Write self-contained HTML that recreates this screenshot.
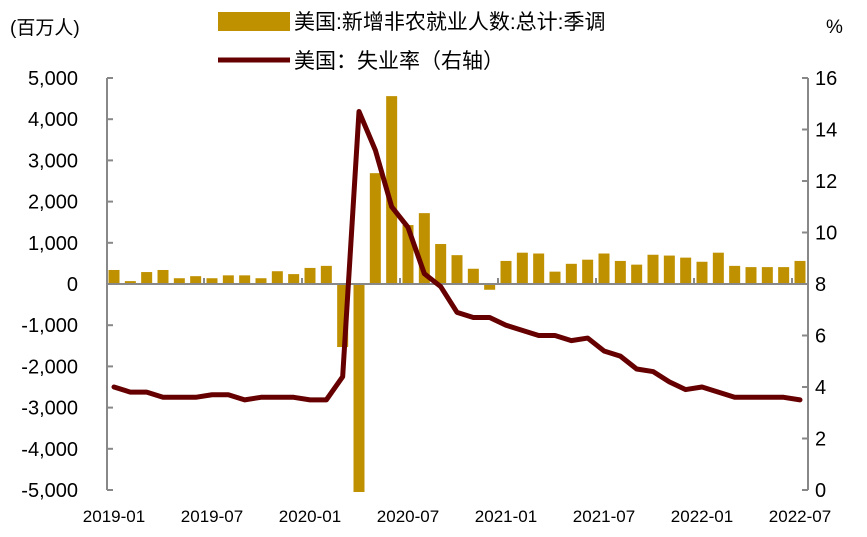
<!DOCTYPE html>
<html><head><meta charset="utf-8"><style>
body{margin:0;background:#fff}
svg{display:block;font-family:"Liberation Sans","Noto Sans CJK SC",sans-serif}
</style></head><body>
<svg id="c" width="867" height="537">
<text x="10" y="34" font-size="19">(百万人)</text>
<text x="826" y="33" font-size="19">%</text>
<rect x="218" y="12" width="72" height="19" fill="#bf9000"/>
<text x="294" y="29" font-size="21">美国:新增非农就业人数:总计:季调</text>
<line x1="218" y1="60" x2="290" y2="60" stroke="#660000" stroke-width="5"/>
<text x="294" y="68" font-size="21">美国：失业率（右轴）</text>
<defs><clipPath id="pc"><rect x="107" y="76" width="702" height="416"/></clipPath></defs>
<g id="bars" clip-path="url(#pc)"></g>
<g id="axes"></g>
<g id="line" clip-path="url(#pc)"></g>
</svg>
<script>
const months=43;
const xLabels=["2019-01","2019-07","2020-01","2020-07","2021-01","2021-07","2022-01","2022-07"];
const payrolls=[340,70,290,340,140,190,140,210,210,140,310,240,390,440,-1530,-20500,2690,4560,1430,1720,970,700,370,-140,560,760,740,300,490,590,740,560,470,710,690,640,540,760,440,410,410,410,560];
const unemp=[4.0,3.8,3.8,3.6,3.6,3.6,3.7,3.7,3.5,3.6,3.6,3.6,3.5,3.5,4.4,14.7,13.2,11.0,10.2,8.4,7.9,6.9,6.7,6.7,6.4,6.2,6.0,6.0,5.8,5.9,5.4,5.2,4.7,4.6,4.2,3.9,4.0,3.8,3.6,3.6,3.6,3.6,3.5];
const leftTicks=[5000,4000,3000,2000,1000,0,-1000,-2000,-3000,-4000,-5000];
const rightTicks=[16,14,12,10,8,6,4,2,0];
{
const NS="http://www.w3.org/2000/svg";
const TOP=78,BOT=490,LFT=107,RGT=808;
const x=i=>114+i*(800-114)/(months-1);
const yL=v=>TOP+(5000-v)/10000*(BOT-TOP);
const yR=v=>TOP+(16-v)/16*(BOT-TOP);
function mk(t,a,p){const e=document.createElementNS(NS,t);for(const k in a)e.setAttribute(k,a[k]);document.getElementById(p).appendChild(e);return e;}
const bw=11;
payrolls.forEach((v,i)=>{const y0=yL(0),y1=yL(v);
const r=mk("rect",{x:x(i)-bw/2,y:Math.min(y0,y1),width:bw,height:Math.abs(y1-y0),fill:"#bf9000"},"bars");

});
let a=mk("line",{x1:LFT,y1:TOP,x2:LFT,y2:BOT,stroke:"#888",'stroke-width':2},"axes");


a=mk("line",{x1:RGT,y1:TOP,x2:RGT,y2:BOT,stroke:"#888",'stroke-width':2},"axes");


a=mk("line",{x1:LFT,y1:yL(0),x2:RGT,y2:yL(0),stroke:"#888",'stroke-width':2},"axes");


leftTicks.forEach(v=>{mk("line",{x1:LFT,y1:yL(v),x2:LFT+6,y2:yL(v),stroke:"#888",'stroke-width':2},"axes");
const t=mk("text",{x:78,y:yL(v)+7,'text-anchor':'end','font-size':20},"axes");t.textContent=v.toLocaleString('en-US');

});
rightTicks.forEach(v=>{mk("line",{x1:RGT-6,y1:yR(v),x2:RGT,y2:yR(v),stroke:"#888",'stroke-width':2},"axes");
const t=mk("text",{x:815,y:yR(v)+7,'font-size':20},"axes");t.textContent=v;

});
xLabels.forEach((s,k)=>{const i=k*6;
if(k>0)mk("line",{x1:x(i)-8,y1:yL(0),x2:x(i)-8,y2:yL(0)-6,stroke:"#888",'stroke-width':2},"axes");
const t=mk("text",{x:x(i),y:522,'text-anchor':'middle','font-size':17},"axes");t.textContent=s;

});
const p=mk("polyline",{points:unemp.map((v,i)=>x(i)+","+yR(v)).join(" "),fill:"none",stroke:"#660000",'stroke-width':5,'stroke-linejoin':'round','stroke-linecap':'round'},"line");


}
</script>
</body></html>
